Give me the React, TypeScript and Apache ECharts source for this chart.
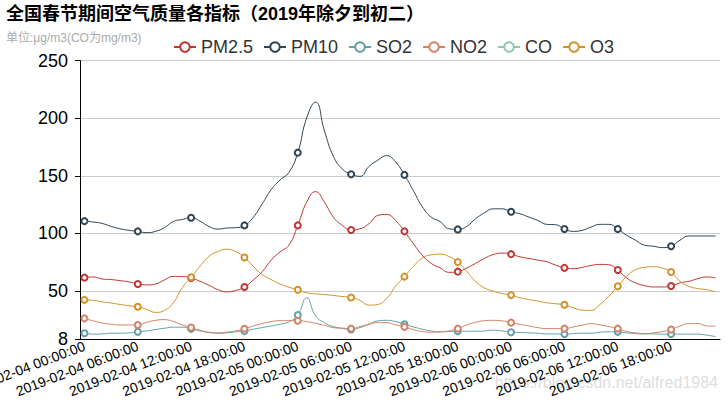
import React, { useEffect, useRef } from "react";
import * as echarts from "echarts";

const days = ["2019-02-04", "2019-02-05", "2019-02-06"];
const hours = ["00", "01", "02", "03", "04", "05", "06", "07", "08", "09", "10", "11", "12", "13", "14", "15", "16", "17", "18", "19", "20", "21", "22", "23"];
const categories: string[] = [];
days.forEach((d) => hours.forEach((h) => categories.push(`${d} ${h}:00:00`)));

const seriesNames = ["PM2.5", "PM10", "SO2", "NO2", "CO", "O3"];

const pm25 = [
  61.5, 62.1, 60.3, 59.8, 58.9, 57.8, 56, 55.2, 56, 59.5, 62.6, 62.4, 61.2, 58.3, 54.9, 51.1, 49.1, 50.3,
  53.3, 59.5, 66.7, 76.7, 83.9, 89.7, 106.9, 127, 136.2, 127, 114.1, 106.9, 102.9, 104, 108.3, 115.5, 116.4, 111.2, 101.7,
  91.1, 81, 73.9, 70.1, 66.1, 66.7, 69.8, 73.9, 78.2, 81.6, 82.8, 81.9, 79.6, 78.2, 76.7, 75.3, 72.4, 70,
  69.3, 70.4, 72.1, 73, 72.7, 68.1, 61.2, 56.9, 54.6, 53.4, 53.4, 54.3, 56.9, 58.3, 60.6, 62.1, 61.2,
];
const pm10 = [
  110.6, 109.8, 108.6, 106, 104, 102.6, 101.7, 100.6, 101.7, 104.9, 110.3, 112, 113.5, 110.6, 106, 103.7, 104.6, 104.9,
  106.9, 114, 125.6, 137.9, 146.3, 152.9, 170.1, 200.3, 214, 189, 167, 156, 151.4, 149.5, 158, 163.5, 167.5, 162, 150.8,
  137.1, 123.3, 114.1, 110.3, 104, 103.4, 106, 112.6, 117.8, 121.3, 121.3, 118.7, 117, 114.1, 111.2, 107.8, 107.5, 103.7,
  101.7, 102.6, 105.5, 107.8, 107.8, 103.7, 98.3, 94, 89.7, 88.8, 87.6, 88.8, 94, 97.7, 97.7, 97.7, 97.7,
];
const so2 = [
  13.2, 12.4, 12.6, 13.2, 13.2, 13.5, 14.4, 15.2, 16.4, 17.5, 18.4, 18.4, 17, 15.2, 13.8, 13.2, 13.5, 14.4,
  15, 16.7, 18.1, 19.5, 21, 23, 29, 44, 28.2, 22.4, 19, 17.5, 16.4, 18.1, 21, 23.9, 24.4, 23.3, 21,
  18.7, 16.7, 15.2, 14.4, 14.7, 14.9, 14.9, 14.9, 15.2, 15.8, 15.2, 14.1, 13.8, 13.5, 13.2, 12.6, 12.6, 12.4,
  12.9, 13.2, 13.2, 14.1, 14.4, 14.4, 13.5, 12.9, 12.6, 12.6, 12.4, 12.4, 12.4, 12.4, 12.4, 11.5, 10.3,
];
const no2 = [
  26.1, 23.9, 22.1, 21, 20.4, 20.4, 20.4, 22.7, 24.4, 25, 23.3, 20.4, 18.1, 15.8, 14.1, 13.5, 14.1, 15.2,
  17.1, 19.5, 21.6, 23.3, 24.1, 24.1, 24.1, 23.3, 21.8, 20.1, 18.1, 17.5, 17.2, 19, 21, 22.4, 22.4, 20.4, 18.7,
  16.4, 14.7, 14.1, 14.4, 15.2, 17.2, 20.4, 22.7, 24.1, 24.4, 23.9, 22.4, 21, 19.5, 18.1, 17.2, 17.2, 17.2,
  18.7, 20.1, 21.6, 20.4, 19, 17.2, 14.7, 13.5, 12.9, 13.5, 14.7, 16.4, 19.5, 21.6, 21.6, 19.5, 19.3,
];
const co = [
  1.1, 1.1, 1.0, 1.0, 1.0, 1.0, 1.0, 1.0, 1.1, 1.1, 1.1, 1.1, 1.1, 1.0, 1.0, 1.0, 1.0, 1.0,
  1.0, 1.1, 1.1, 1.2, 1.3, 1.3, 1.5, 1.7, 1.8, 1.7, 1.5, 1.4, 1.3, 1.3, 1.4, 1.4, 1.4, 1.4, 1.3,
  1.2, 1.1, 1.1, 1.0, 1.0, 1.0, 1.0, 1.0, 1.1, 1.1, 1.1, 1.1, 1.1, 1.0, 1.0, 1.0, 1.0, 1.0,
  1.0, 1.0, 1.0, 1.0, 1.0, 1.0, 0.9, 0.9, 0.9, 0.9, 0.9, 0.9, 0.9, 0.9, 0.9, 0.9, 0.9,
];
const o3 = [
  42.2, 41.7, 40.5, 39.4, 38.2, 37.1, 36.2, 33.9, 31.3, 33, 39.7, 52.6, 61.8, 71.3, 79.9, 84.2, 86.2, 84.2,
  79, 71.3, 64.1, 59.8, 56, 53.2, 50.9, 48.3, 47.4, 46.8, 46, 45.1, 44.3, 41.7, 37.6, 38.2, 43.4, 54, 62.4,
  71.3, 78.4, 81.3, 81.9, 79.9, 75, 67, 58.3, 52.6, 49.7, 47.7, 46.3, 44, 42.5, 41.1, 39.7, 38.8, 38,
  35.3, 33.3, 33, 38.2, 45.4, 54, 62.6, 68.4, 70.4, 71, 69.8, 66.4, 58.3, 54, 52, 51.1, 49.1,
];

const seriesData = [pm25, pm10, so2, no2, co, o3];
const colors = ["#c23531", "#2f4554", "#61a0a8", "#d48265", "#91c7ae", "#d3912a"];

const FONT = "'Liberation Sans', Arial, 'Noto Sans CJK SC', sans-serif";

export default function App() {
  const ref = useRef<HTMLDivElement>(null);
  useEffect(() => {
    document.body.style.margin = "0";
    if (!ref.current) return;
    const chart = echarts.init(ref.current, null, { renderer: "svg" });
    chart.setOption({
      animation: false,
      color: colors,
      textStyle: { fontFamily: FONT },
      title: {
        text: "全国春节期间空气质量各指标（2019年除夕到初二）",
        subtext: "单位:μg/m3(CO为mg/m3)",
        left: 1,
        top: 0,
        itemGap: 9,
        textStyle: { fontSize: 18, fontWeight: "bold", color: "#000", fontFamily: FONT },
        subtextStyle: { fontSize: 12, color: "#aaa", fontFamily: FONT },
      },
      legend: {
        data: seriesNames,
        left: 168,
        top: 33,
        itemGap: 10,
        itemWidth: 22,
        itemHeight: 12,
        textStyle: { fontSize: 18, color: "#333", fontFamily: FONT },
      },
      grid: { left: 80, right: 8, top: 60.7, bottom: 60.8, containLabel: false, outerBoundsMode: "none" },
      xAxis: {
        type: "category",
        data: categories,
        boundaryGap: true,
        axisLine: { lineStyle: { color: "#000" } },
        axisTick: { lineStyle: { color: "#000" } },
        axisLabel: { interval: 5, rotate: 21, margin: 6, fontSize: 14, color: "#000", fontFamily: FONT, hideOverlap: false },
      },
      yAxis: {
        type: "value",
        min: 8,
        max: 250,
        axisLine: { show: true, lineStyle: { color: "#000" } },
        axisTick: { show: true, lineStyle: { color: "#000" } },
        axisLabel: { fontSize: 18, color: "#000", margin: 12, fontFamily: FONT },
        splitLine: { lineStyle: { color: "#ccc" } },
      },
      graphic: [
        {
          type: "text",
          right: 10,
          top: 374,
          style: {
            text: "https://blog.csdn.net/alfred1984",
            fontSize: 16,
            fontFamily: FONT,
            fill: "rgba(210,210,210,0.75)",
          },
          silent: true,
        },
      ],
      series: seriesNames.map((name, k) => ({
        name,
        type: "line",
        data: seriesData[k],
        smooth: true,
        symbol: "emptyCircle",
        symbolSize: (_v: any, p: any) => (p.dataIndex % 6 === 0 ? 6 : 0),
        showAllSymbol: true,
        lineStyle: { width: 1 },
        itemStyle: { borderWidth: 0.8 },
        clip: true,
      })),
    });
    return () => chart.dispose();
  }, []);
  return <div ref={ref} style={{ width: 728, height: 400 }} />;
}
